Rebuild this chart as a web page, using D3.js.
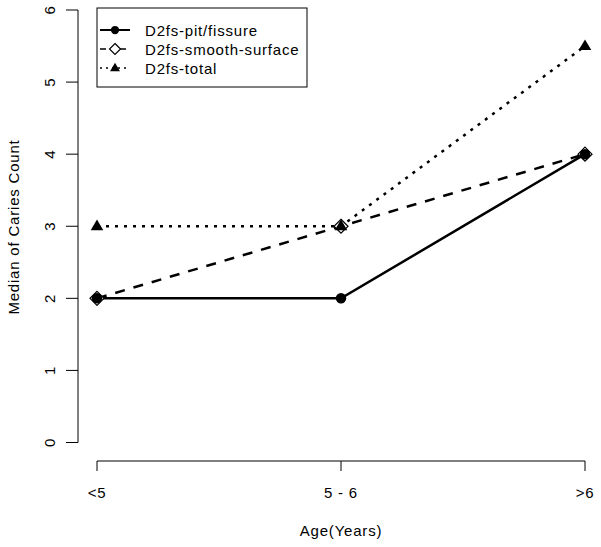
<!DOCTYPE html>
<html>
<head>
<meta charset="utf-8">
<script src="https://cdn.jsdelivr.net/npm/d3@7"></script>
<style>
  body { margin: 0; background: #fff; }
  svg text { font-family: "Liberation Sans", Arial, sans-serif; font-size: 15px; letter-spacing: 0.8px; fill: #000; }
</style>
</head>
<body>
<div id="chart"></div>
<script>
// Median caries count by age group, three D2fs series.

const AGE_GROUPS = ["<5", "5 - 6", ">6"];
const PIT_FISSURE = [2, 2, 4];
const SMOOTH_SURFACE = [2, 3, 4];
const TOTAL = [3, 3, 5.5];
const Y_TICKS = [0, 1, 2, 3, 4, 5, 6];

const SERIES = [
    { name: "D2fs-pit/fissure", values: PIT_FISSURE, dash: null, symbol: "circle" },
    { name: "D2fs-smooth-surface", values: SMOOTH_SURFACE, dash: "10,9", symbol: "diamond" },
    { name: "D2fs-total", values: TOTAL, dash: "3,6", symbol: "triangle" },
];
// open diamonds sit underneath the filled markers
const MARKER_ORDER = [1, 0, 2];

const WIDTH = 601;
const HEIGHT = 547;

const svg = d3.select("#chart").append("svg")
    .attr("width", WIDTH)
    .attr("height", HEIGHT);

const x = d3.scalePoint().domain(AGE_GROUPS).range([97, 585]);
const y = d3.scaleLinear().domain([0, 6]).range([442.5, 10]);

// y axis, offset to the left like base R
const yAxis = svg.append("g").attr("transform", "translate(78,0)");
yAxis.append("line")
    .attr("y1", y(0)).attr("y2", y(6))
    .attr("stroke", "#000");
yAxis.selectAll(".tick")
    .data(Y_TICKS)
    .join("line")
    .attr("x1", 0).attr("x2", -12)
    .attr("y1", d => y(d)).attr("y2", d => y(d))
    .attr("stroke", "#000");
yAxis.selectAll("text")
    .data(Y_TICKS)
    .join("text")
    .attr("transform", d => `translate(-23,${y(d)}) rotate(-90)`)
    .attr("text-anchor", "middle")
    .text(d => d);

// x axis
const xAxis = svg.append("g").attr("transform", "translate(0,461)");
xAxis.append("line")
    .attr("x1", x(AGE_GROUPS[0])).attr("x2", x(AGE_GROUPS[2]))
    .attr("stroke", "#000");
xAxis.selectAll(".tick")
    .data(AGE_GROUPS)
    .join("line")
    .attr("x1", d => x(d)).attr("x2", d => x(d))
    .attr("y1", 0).attr("y2", 10)
    .attr("stroke", "#000");
xAxis.selectAll("text")
    .data(AGE_GROUPS)
    .join("text")
    .attr("x", d => x(d))
    .attr("y", 37)
    .attr("text-anchor", "middle")
    .text(d => d);

svg.append("text")
    .attr("x", 341).attr("y", 536)
    .attr("text-anchor", "middle")
    .text("Age(Years)");

svg.append("text")
    .attr("transform", "translate(19,227) rotate(-90)")
    .attr("text-anchor", "middle")
    .text("Median of Caries Count");

const line = d3.line()
    .x((d, i) => x(AGE_GROUPS[i]))
    .y(d => y(d));

function drawSymbol(g, type, cx, cy, r) {
    if (type === "circle") {
        g.append("circle").attr("cx", cx).attr("cy", cy).attr("r", r * 0.75)
            .attr("fill", "#000");
    } else if (type === "diamond") {
        g.append("path")
            .attr("d", `M${cx},${cy - r}L${cx + r},${cy}L${cx},${cy + r}L${cx - r},${cy}Z`)
            .attr("fill", "#fff").attr("stroke", "#000").attr("stroke-width", 1.2);
    } else {
        const t = r * 0.95;
        g.append("path")
            .attr("d", `M${cx},${cy - t}L${cx + t * 0.95},${cy + t * 0.6}L${cx - t * 0.95},${cy + t * 0.6}Z`)
            .attr("fill", "#000");
    }
}

const plot = svg.append("g");
SERIES.forEach(s => {
    plot.append("path")
        .attr("d", line(s.values))
        .attr("fill", "none")
        .attr("stroke", "#000")
        .attr("stroke-width", 2.5)
        .attr("stroke-dasharray", s.dash);
});
MARKER_ORDER.forEach(k => {
    const s = SERIES[k];
    s.values.forEach((v, i) => drawSymbol(plot, s.symbol, x(AGE_GROUPS[i]), y(v), 7));
});

// legend
const legend = svg.append("g");
legend.append("rect")
    .attr("x", 97).attr("y", 8)
    .attr("width", 210).attr("height", 79)
    .attr("fill", "#fff").attr("stroke", "#000");
SERIES.forEach((s, i) => {
    const ly = 30 + i * 19;
    legend.append("line")
        .attr("x1", 100).attr("x2", 130)
        .attr("y1", ly).attr("y2", ly)
        .attr("stroke", "#000")
        .attr("stroke-width", s.dash ? 1.5 : 2)
        .attr("stroke-dasharray", s.dash ? (s.symbol === "diamond" ? "6,4" : "2,4") : null);
    drawSymbol(legend, s.symbol, 115, ly, 5.5);
    legend.append("text")
        .attr("x", 145).attr("y", ly + 5.5)
        .text(s.name);
});
</script>
</body>
</html>
